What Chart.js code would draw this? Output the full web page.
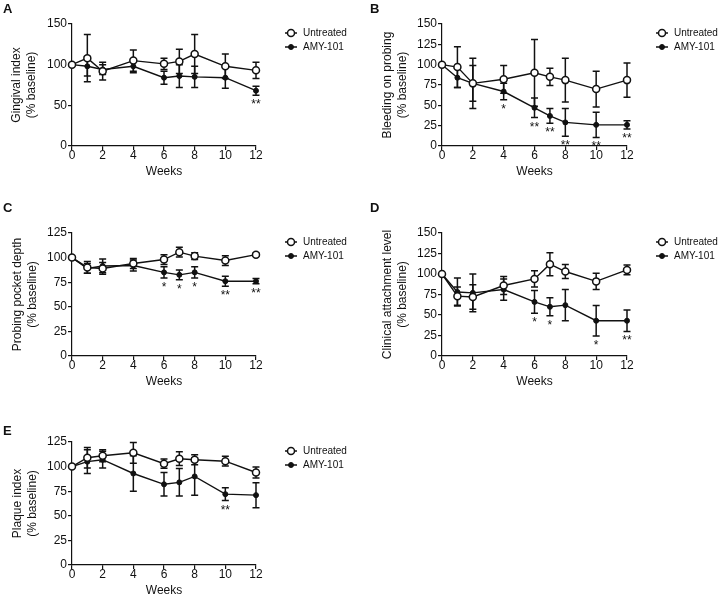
<!DOCTYPE html>
<html>
<head>
<meta charset="utf-8">
<script src="https://cdn.jsdelivr.net/npm/chart.js@4.4.0/dist/chart.umd.min.js"></script>
<style>
  html, body { margin: 0; padding: 0; background: #fff; }
  body { width: 719px; height: 595px; position: relative; overflow: hidden; }
  .panel { position: absolute; }
  .panel canvas { display: block; }
</style>
</head>
<body>
<script>
const weeks = [0, 1, 2, 4, 6, 7, 8, 10, 12];
const seriesNames = ['Untreated', 'AMY-101'];

// A - gingival index (% baseline), mean and error
const giUntreated = [100, 108, 92, 105, 101, 104, 113, 98, 93];
const giUntreatedErr = [0, 29, 11, 13, 7, 15, 24, 15, 10];
const giAmy = [100, 98, 94, 98, 84, 86, 85, 84, 68];
const giAmyErr = [0, 12, 6, 8, 8, 14, 13, 13, 5.5];
const giStars = ['', '', '', '', '', '', '', '', '**'];

// B - bleeding on probing
const bopUntreated = [100, 97, 77, 82, 90, 85, 81, 70, 81];
const bopUntreatedErr = [0, 25, 31, 17, 41, 10.5, 27, 22, 21];
const bopAmy = [100, 84, 77, 67, 47, 37, 29, 26, 26];
const bopAmyErr = [0, 12, 22, 10, 12, 9, 17, 15.5, 5];
const bopStars = ['', '', '', '*', '**', '**', '**', '**', '**'];

// C - probing pocket depth
const ppdUntreated = [100, 90, 89, 94, 98, 105.5, 101.5, 97, 103];
const ppdUntreatedErr = [0, 6, 6, 5, 5, 5, 3.5, 5, 1.5];
const ppdAmy = [100, 89, 91.5, 92, 85, 82.5, 85, 76, 76];
const ppdAmyErr = [0, 5, 7, 5.5, 5.7, 5, 5.7, 5, 2.7];
const ppdStars = ['', '', '', '', '*', '*', '*', '**', '**'];

// D - clinical attachment level
const calUntreated = [100, 73, 72, 86, 94, 112, 103, 91, 105];
const calUntreatedErr = [0, 11, 15, 11, 10, 14, 8.5, 10, 6];
const calAmy = [100, 78, 77, 81, 66, 60, 62, 43, 43];
const calAmyErr = [0, 17, 23, 13, 14, 11, 19, 18.5, 13];
const calStars = ['', '', '', '', '*', '*', '', '*', '**'];

// E - plaque index
const piUntreated = [100, 109, 111, 114, 103, 108, 107, 105.5, 94];
const piUntreatedErr = [0, 10.5, 6, 10.5, 4.6, 7, 5, 5, 5.7];
const piAmy = [100, 105, 107, 93, 82, 84, 90, 72, 71];
const piAmyErr = [0, 12, 8.5, 18, 12, 14, 19, 6.5, 12.7];
const piStars = ['', '', '', '', '', '', '', '**', ''];

const ink = '#111';
const fontFamily = "'Liberation Sans', Arial, Helvetica, sans-serif";
Chart.defaults.font.family = fontFamily;
Chart.defaults.font.size = 12;
Chart.defaults.color = ink;

const panels = [
  { letter: 'A', title: ['Gingival index', '(% baseline)'], u: giUntreated, ue: giUntreatedErr, a: giAmy, ae: giAmyErr, stars: giStars,
    yMax: 150, yStep: 50, box: [0, 0, 360], plot: [72, 256, 24, 146], titleX: 17, letterPos: [3, 13] },
  { letter: 'B', title: ['Bleeding on probing', '(% baseline)'], u: bopUntreated, ue: bopUntreatedErr, a: bopAmy, ae: bopAmyErr, stars: bopStars,
    yMax: 150, yStep: 25, box: [360, 0, 359], plot: [442, 627, 24, 146], titleX: 388, letterPos: [370, 13] },
  { letter: 'C', title: ['Probing pocket depth', '(% baseline)'], u: ppdUntreated, ue: ppdUntreatedErr, a: ppdAmy, ae: ppdAmyErr, stars: ppdStars,
    yMax: 125, yStep: 25, box: [0, 190, 360], plot: [72, 256, 233, 356], titleX: 18, letterPos: [3, 212] },
  { letter: 'D', title: ['Clinical attachment level', '(% baseline)'], u: calUntreated, ue: calUntreatedErr, a: calAmy, ae: calAmyErr, stars: calStars,
    yMax: 150, yStep: 25, box: [360, 190, 359], plot: [442, 627, 233, 356], titleX: 388, letterPos: [370, 212] },
  { letter: 'E', title: ['Plaque index', '(% baseline)'], u: piUntreated, ue: piUntreatedErr, a: piAmy, ae: piAmyErr, stars: piStars,
    yMax: 125, yStep: 25, box: [0, 380, 360], plot: [72, 256, 442, 565], titleX: 18, letterPos: [3, 435] }
];

// error bars under the points
const errorBars = {
  id: 'errorBars',
  beforeDatasetsDraw(chart) {
    const ctx = chart.ctx, xs = chart.scales.x, ys = chart.scales.y;
    ctx.save();
    ctx.strokeStyle = ink;
    ctx.lineWidth = 1.5;
    chart.data.datasets.forEach(ds => {
      ds.data.forEach((pt, i) => {
        const e = ds.err[i];
        if (!e) return;
        const px = xs.getPixelForValue(pt.x);
        const hi = ys.getPixelForValue(pt.y + e);
        const lo = ys.getPixelForValue(pt.y - e);
        ctx.beginPath();
        ctx.moveTo(px, hi); ctx.lineTo(px, lo);
        ctx.moveTo(px - 3.5, hi); ctx.lineTo(px + 3.5, hi);
        ctx.moveTo(px - 3.5, lo); ctx.lineTo(px + 3.5, lo);
        ctx.stroke();
      });
    });
    ctx.restore();
  }
};

// significance stars, letter and legend
const decor = {
  id: 'decor',
  afterDraw(chart, args, opts) {
    const ctx = chart.ctx, xs = chart.scales.x, ys = chart.scales.y;
    const area = chart.chartArea;
    const amy = chart.data.datasets[1];
    ctx.save();
    ctx.fillStyle = ink;
    ctx.textAlign = 'center';
    ctx.textBaseline = 'alphabetic';
    ctx.font = '12px ' + fontFamily;
    opts.stars.forEach((s, i) => {
      if (!s) return;
      const pt = amy.data[i];
      ctx.fillText(s, xs.getPixelForValue(pt.x), ys.getPixelForValue(pt.y - amy.err[i]) + 13);
    });

    ctx.textAlign = 'left';
    ctx.font = 'bold 13px ' + fontFamily;
    ctx.fillText(opts.letter, opts.letterPos[0], opts.letterPos[1]);

    ctx.font = '10px ' + fontFamily;
    ctx.textBaseline = 'middle';
    chart.data.datasets.forEach((ds, i) => {
      const y = area.top + 9 + 14 * i;
      const x0 = area.right + 29;
      ctx.strokeStyle = ink;
      ctx.lineWidth = 1.5;
      ctx.beginPath();
      ctx.moveTo(x0, y); ctx.lineTo(x0 + 12, y);
      ctx.stroke();
      ctx.beginPath();
      ctx.arc(x0 + 6, y, ds.pointRadius, 0, Math.PI * 2);
      ctx.fillStyle = ds.pointBackgroundColor;
      ctx.fill();
      ctx.lineWidth = ds.pointBorderWidth;
      ctx.stroke();
      ctx.fillStyle = ink;
      ctx.fillText(ds.label, x0 + 18, y);
    });
    ctx.restore();
  }
};

function makePanel(p) {
  const [bx, by, bw] = p.box;
  const [pl, pr, pt, pb] = p.plot;
  const axisH = 39;
  const h = Math.round(pb + axisH - by);
  const div = document.createElement('div');
  div.className = 'panel';
  div.style.left = bx + 'px';
  div.style.top = by + 'px';
  const canvas = document.createElement('canvas');
  canvas.width = bw;
  canvas.height = h;
  div.appendChild(canvas);
  document.body.appendChild(div);

  new Chart(canvas, {
    type: 'line',
    data: {
      datasets: [
        {
          label: seriesNames[0],
          data: weeks.map((w, i) => ({ x: w, y: p.u[i] })),
          err: p.ue,
          borderColor: ink, borderWidth: 1.4,
          pointRadius: 3.5, pointBackgroundColor: '#fff', pointBorderColor: ink, pointBorderWidth: 1.5,
          clip: false
        },
        {
          label: seriesNames[1],
          data: weeks.map((w, i) => ({ x: w, y: p.a[i] })),
          err: p.ae,
          borderColor: ink, borderWidth: 1.4,
          pointRadius: 2.5, pointBackgroundColor: ink, pointBorderColor: ink, pointBorderWidth: 1,
          clip: false
        }
      ]
    },
    options: {
      responsive: false,
      animation: false,
      devicePixelRatio: 1,
      layout: { padding: { left: 0, top: pt - by, right: bx + bw - pr, bottom: 0 } },
      plugins: {
        legend: { display: false },
        tooltip: { enabled: false },
        decor: { stars: p.stars, letter: p.letter, letterPos: [p.letterPos[0] - bx, p.letterPos[1] - by] }
      },
      scales: {
        x: {
          type: 'linear', min: 0, max: 12,
          afterFit: s => { s.height = axisH; },
          ticks: { stepSize: 2, padding: -2, maxRotation: 0 },
          grid: { drawOnChartArea: false, color: ink, tickLength: 4, lineWidth: 1.2 },
          border: { color: ink, width: 1.2 },
          title: { display: true, text: 'Weeks', padding: { top: 0, bottom: 6 } }
        },
        y: {
          min: 0, max: p.yMax,
          afterFit: s => { s.width = pl - bx; },
          ticks: { stepSize: p.yStep, padding: 1 },
          grid: { drawOnChartArea: false, color: ink, tickLength: 4, lineWidth: 1.2 },
          border: { color: ink, width: 1.2 },
          title: { display: true, text: p.title, padding: { top: p.titleX - bx - 7.2, bottom: 0 } }
        }
      }
    },
    plugins: [errorBars, decor]
  });
}

panels.forEach(makePanel);
</script>
</body>
</html>
